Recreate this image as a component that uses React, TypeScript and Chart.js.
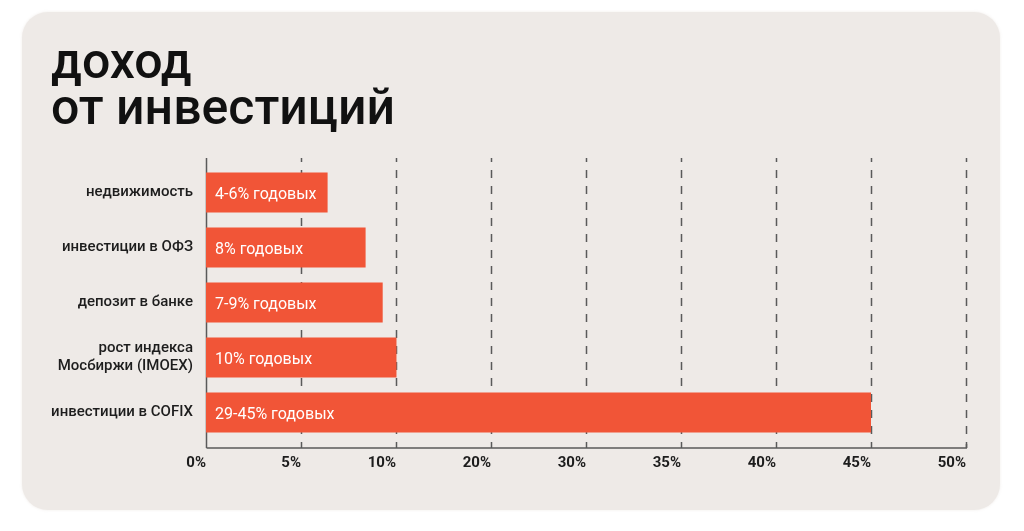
import React, { useEffect, useRef } from "react";
import { Chart, registerables } from "chart.js";

Chart.register(...registerables);

const categories: (string | string[])[] = [
  "недвижимость",
  "инвестиции в ОФЗ",
  "депозит в банке",
  ["рост индекса", "Мосбиржи (IMOEX)"],
  "инвестиции в COFIX",
];
// percent values (bar end positions)
const valuesPercent = [6.4, 8.4, 9.3, 10.05, 45];
const barLabels = [
  "4-6% годовых",
  "8% годовых",
  "7-9% годовых",
  "10% годовых",
  "29-45% годовых",
];
// the axis is drawn with evenly spaced ticks carrying these labels
const tickPercents = [0, 5, 10, 20, 30, 35, 40, 45, 50];

const toAxis = (p: number) => {
  for (let i = 0; i < tickPercents.length - 1; i++) {
    const a = tickPercents[i];
    const b = tickPercents[i + 1];
    if (p <= b) return i + (p - a) / (b - a);
  }
  return tickPercents.length - 1;
};

const FONT = "Roboto, 'DejaVu Sans', sans-serif";
const TEXT = "#1d1d1d";
const BAR = "#f15537";
const LINE = "#5a5a5a";

export default function App() {
  const ref = useRef<HTMLCanvasElement | null>(null);

  useEffect(() => {
    if (!ref.current) return;
    const gridPlugin = {
      id: "customGrid",
      beforeDatasetsDraw(chart: any) {
        const { ctx, chartArea, scales } = chart;
        const x = scales.x;
        const top = chartArea.top - 7;
        const bottom = chartArea.bottom + 8;
        ctx.save();
        ctx.strokeStyle = LINE;
        ctx.lineWidth = 1.5;
        ctx.setLineDash([8, 8]);
        ctx.lineDashOffset = 4;
        for (let i = 1; i < tickPercents.length; i++) {
          const px = Math.round(x.getPixelForValue(i)) + 0.5;
          ctx.beginPath();
          ctx.moveTo(px, top);
          ctx.lineTo(px, bottom);
          ctx.stroke();
        }
        ctx.setLineDash([]);
        const x0 = Math.round(x.getPixelForValue(0)) + 0.5;
        const xN = Math.round(x.getPixelForValue(tickPercents.length - 1)) + 0.5;
        ctx.beginPath();
        ctx.moveTo(x0, top);
        ctx.lineTo(x0, bottom);
        ctx.moveTo(x0, bottom);
        ctx.lineTo(xN + 0.5, bottom);
        ctx.stroke();
        ctx.beginPath();
        ctx.moveTo(xN, bottom - 4);
        ctx.lineTo(xN, bottom);
        ctx.stroke();
        ctx.restore();
      },
    };
    const labelPlugin = {
      id: "barLabels",
      afterDatasetsDraw(chart: any) {
        const { ctx } = chart;
        const meta = chart.getDatasetMeta(0);
        ctx.save();
        ctx.fillStyle = "#ffffff";
        ctx.font = `400 16px ${FONT}`;
        ctx.textBaseline = "middle";
        ctx.textAlign = "left";
        meta.data.forEach((el: any, i: number) => {
          ctx.fillText(barLabels[i], el.base + 9, el.y + 2);
        });
        ctx.restore();
      },
    };
    const chart = new Chart(ref.current, {
      type: "bar",
      data: {
        labels: categories,
        datasets: [
          {
            data: valuesPercent.map(toAxis),
            backgroundColor: BAR,
            borderWidth: 0,
            categoryPercentage: 1,
            barPercentage: 40 / 55,
          },
        ],
      },
      options: {
        indexAxis: "y",
        responsive: false,
        animation: false,
        devicePixelRatio: 1,
        layout: { padding: { top: 165, right: 58, left: 0, bottom: 0 } },
        plugins: {
          legend: { display: false },
          tooltip: { enabled: false },
          title: { display: false },
        },
        scales: {
          x: {
            type: "linear",
            min: 0,
            max: tickPercents.length - 1,
            afterFit(scale: any) {
              scale.height = 91;
            },
            afterBuildTicks(scale: any) {
              scale.ticks = tickPercents.map((_, i) => ({ value: i }));
            },
            grid: { display: false, drawTicks: false },
            border: { display: false },
            ticks: {
              align: "end",
              padding: 14,
              color: TEXT,
              font: { family: FONT, size: 15, weight: "bold" },
              callback: (v: any) => `${tickPercents[Math.round(Number(v))]}%`,
            },
          },
          y: {
            afterFit(scale: any) {
              scale.width = 206;
            },
            grid: { display: false, drawTicks: false },
            border: { display: false },
            ticks: {
              padding: 13,
              color: TEXT,
              font: { family: FONT, size: 15, weight: "500", lineHeight: 1.2 },
            },
          },
        },
      },
      plugins: [gridPlugin, labelPlugin],
    } as any);
    return () => chart.destroy();
  }, []);

  return (
    <div
      style={{
        position: "absolute",
        left: 0,
        top: 0,
        width: 1024,
        height: 531,
        background: "#ffffff",
        overflow: "hidden",
      }}
    >
      <div
        style={{
          position: "absolute",
          left: 22,
          top: 12,
          width: 978,
          height: 498,
          borderRadius: 26,
          background: "#eeeae7",
          boxShadow: "0 0 3px rgba(238,234,231,0.9)",
        }}
      />
      <div
        style={{
          position: "absolute",
          left: 51,
          top: 38,
          fontFamily: FONT,
          fontWeight: 500,
          fontSize: 50,
          lineHeight: "46px",
          color: "#111111",
          whiteSpace: "pre",
        }}
      >
        {"доход\nот инвестиций"}
      </div>
      <canvas
        ref={ref}
        width={1024}
        height={531}
        style={{ position: "absolute", left: 0, top: 0, width: 1024, height: 531 }}
      />
    </div>
  );
}
